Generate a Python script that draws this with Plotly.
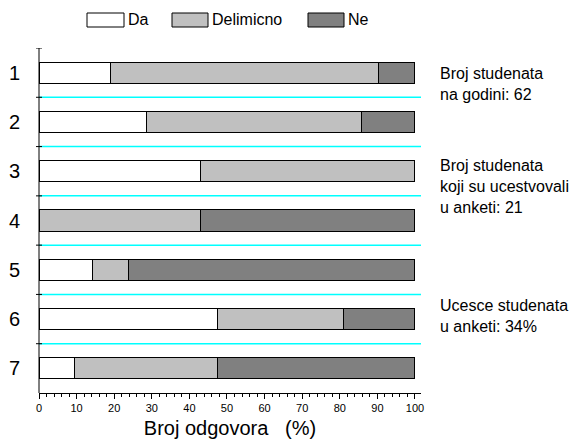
import plotly.graph_objects as go

# ---- data (percent of answers, 21 respondents) ----
questions = ["1", "2", "3", "4", "5", "6", "7"]
series_names = ["Da", "Delimicno", "Ne"]
da = [19.0, 28.6, 42.9, 0.0, 14.3, 47.6, 9.5]
delimicno = [71.4, 57.1, 57.1, 42.9, 9.5, 33.3, 38.1]
ne = [9.5, 14.3, 0.0, 57.1, 76.2, 19.0, 52.4]
x_ticks = [0, 10, 20, 30, 40, 50, 60, 70, 80, 90, 100]
notes = ["Broj studenata<br>na godini: 62",
         "Broj studenata<br>koji su ucestvovali<br>u anketi: 21",
         "Ucesce studenata<br>u anketi: 34%"]
note_pos = [1.23, 3.31, 5.94]

colors = ["#ffffff", "#c0c0c0", "#808080"]
FONT = "Liberation Sans, Arial, sans-serif"

W, H = 579, 445
ML, MR, MT, MB = 39, 158, 48, 52
PW, PH = W - ML - MR, H - MT - MB

def px_x(p):
    return (p - ML) / PW

def px_y(p):
    return (H - MB - p) / PH

ypos = list(range(1, len(questions) + 1))

fig = go.Figure()
for name, vals, col in zip(series_names, [da, delimicno, ne], colors):
    fig.add_trace(go.Bar(
        x=vals, y=ypos, orientation="h", name=name, width=0.43,
        marker=dict(color=col, line=dict(color="#000000", width=1)),
        showlegend=False,
    ))

shapes = []
# cyan separators between questions
for i in range(1, len(questions)):
    shapes.append(dict(type="line", xref="paper", yref="y", x0=0, x1=1,
                       y0=i + 0.5, y1=i + 0.5, layer="below",
                       line=dict(color="#00ffff", width=1.5)))
# crossing tick marks on the left axis at the separators
for i in range(0, len(questions)):
    shapes.append(dict(type="line", xref="paper", yref="y", x0=px_x(36), x1=px_x(42),
                       y0=i + 0.5, y1=i + 0.5,
                       line=dict(color="#000000", width=1)))
# left axis line
shapes.append(dict(type="line", xref="paper", yref="paper", x0=0, x1=0,
                   y0=0, y1=1, line=dict(color="#000000", width=1)))

# manual legend
leg_boxes = [(87, 124), (172, 208), (308, 344)]
annotations = []
for (x0, x1), name, col in zip(leg_boxes, series_names, colors):
    shapes.append(dict(type="rect", xref="paper", yref="paper",
                       x0=px_x(x0), x1=px_x(x1), y0=px_y(27), y1=px_y(13),
                       fillcolor=col, line=dict(color="#000000", width=1)))
    annotations.append(dict(xref="paper", yref="paper", x=px_x(x1 + 2), y=px_y(20),
                            text=name, showarrow=False, xanchor="left", yanchor="middle",
                            font=dict(family=FONT, size=16, color="#000000")))

for txt, yp in zip(notes, note_pos):
    annotations.append(dict(xref="paper", yref="y", x=1, xshift=17, y=yp,
                            text=txt, showarrow=False, xanchor="left", yanchor="middle",
                            align="left",
                            font=dict(family=FONT, size=16, color="#000000")))

fig.update_layout(
    barmode="stack",
    width=W, height=H,
    margin=dict(l=ML, r=MR, t=MT, b=MB, pad=0),
    plot_bgcolor="#ffffff", paper_bgcolor="#ffffff",
    shapes=shapes, annotations=annotations,
    xaxis=dict(
        range=[0, 101.6], tickmode="array", tickvals=x_ticks,
        ticktext=[str(v) for v in x_ticks],
        ticks="outside", ticklen=5, tickcolor="#000000", tickwidth=1,
        minor=dict(tickmode="linear", tick0=0, dtick=2, ticks="outside",
                   ticklen=3, tickcolor="#000000", tickwidth=1, showgrid=False),
        showline=True, linecolor="#000000", linewidth=1,
        showgrid=False, zeroline=False, automargin=False,
        tickfont=dict(family=FONT, size=11, color="#000000"),
        title=dict(text="Broj odgovora \u00a0 (%)", standoff=7,
                   font=dict(family=FONT, size=20, color="#000000")),
    ),
    yaxis=dict(
        range=[len(questions) + 0.5, 0.5], tickmode="array", tickvals=ypos,
        ticktext=questions, ticks="",
        showline=False, showgrid=False, zeroline=False, automargin=False,
        ticklabelstandoff=18,
        tickfont=dict(family=FONT, size=20, color="#000000"),
    ),
)

fig.write_html("out.html", config={"displayModeBar": False},
               post_script="document.body.style.margin='0';document.body.style.overflow='hidden';")
